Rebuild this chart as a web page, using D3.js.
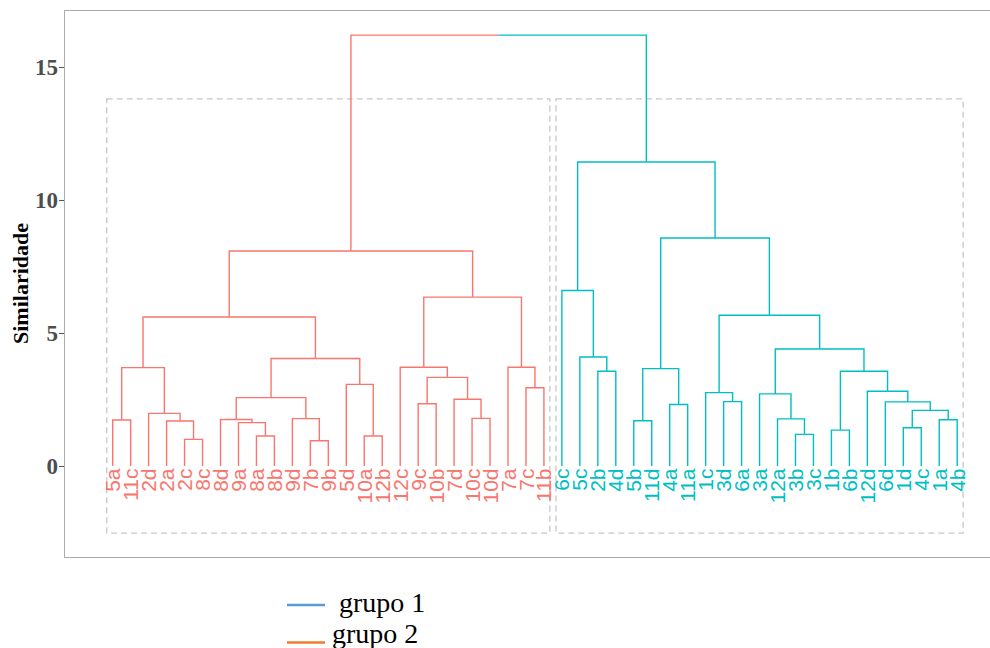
<!DOCTYPE html>
<html>
<head>
<meta charset="utf-8">
<script src="https://cdn.jsdelivr.net/npm/d3@7"></script>
<style>
  html, body { margin: 0; padding: 0; background: #fff; }
  svg { display: block; }
</style>
</head>
<body>
<svg id="chart" width="990" height="648"></svg>
<script>
// ---- DATA ----
const leafLabels = ["5a","11c","2d","2a","2c","8c","8d","9a","8a","8b","9d","7b","9b","5d","10a","12b",
  "12c","9c","10b","7d","10c","10d","7a","7c","11b",
  "6c","5c","2b","4d","5b","11d","4a","11a","1c","3d","6a","3a","12a","3b","3c","1b","6b","12d","6d","1d","4c","1a","4b"];
const leafGroups = [1,1,1,1,1,1,1,1,1,1,1,1,1,1,1,1,1,1,1,1,1,1,1,1,1,
  2,2,2,2,2,2,2,2,2,2,2,2,2,2,2,2,2,2,2,2,2,2,2];
// merges: [childA, childB, height]; strings = leaves, numbers = earlier merge rows
const merges = [
  ["2c","8c",1.00], ["2a",0,1.69], ["2d",1,1.98], ["5a","11c",1.73], [3,2,3.70],
  ["8a","8b",1.13], ["9a",5,1.63], ["8d",6,1.75], ["7b","9b",0.95], ["9d",8,1.78],
  [7,9,2.57], ["10a","12b",1.13], ["5d",11,3.07], [10,12,4.04], [4,13,5.60],
  ["9c","10b",2.34], ["10c","10d",1.79], ["7d",16,2.51], [15,17,3.33], ["12c",18,3.71],
  ["7c","11b",2.94], ["7a",20,3.71], [19,21,6.35], [14,22,8.08],
  ["2b","4d",3.56], ["5c",24,4.10], ["6c",25,6.60], ["5b","11d",1.70], ["4a","11a",2.31],
  [27,28,3.66], ["3d","6a",2.42], ["1c",30,2.76], ["3b","3c",1.19], ["12a",32,1.77],
  ["3a",33,2.71], ["1b","6b",1.35], ["1d","4c",1.44], ["1a","4b",1.74], [36,37,2.09],
  ["6d",38,2.41], ["12d",39,2.81], [35,40,3.56], [34,41,4.40], [31,42,5.67],
  [29,43,8.57], [26,44,11.43], [23,45,16.20]
];
const yTicks = [0,5,10,15];
const rectTop = 13.8, rectBottom = -2.52;
const groupColors = {1: "#F8766D", 2: "#00BFC4"};
const legendItems = ["grupo 1","grupo 2"];
const legendColors = ["#5B9BD5","#ED7D31"];

// ---- LAYOUT ----
const svg = d3.select("#chart");
const panel = {x0: 64, x1: 993, y0: 10, y1: 557};
const x = d3.scaleLinear().domain([0, leafLabels.length - 1]).range([112.7, 957.2]);
const y = d3.scaleLinear().domain([0, 15]).range([466, 67]);

// build node info
const leafIndex = {};
leafLabels.forEach((l, i) => leafIndex[l] = i);
const nodes = [];
function info(c) {
  if (typeof c === "string") {
    const i = leafIndex[c];
    return {x: i, h: 0, g: leafGroups[i]};
  }
  return nodes[c];
}
merges.forEach(([a, b, h]) => {
  const A = info(a), B = info(b);
  nodes.push({x: (A.x + B.x) / 2, h: h, g: A.g === B.g ? A.g : 0, A, B});
});

// panel border
svg.append("rect")
  .attr("x", panel.x0 + 0.5).attr("y", panel.y0 + 0.5)
  .attr("width", panel.x1 - panel.x0).attr("height", panel.y1 - panel.y0)
  .attr("fill", "none").attr("stroke", "#ABABAB").attr("stroke-width", 1);

// group rectangles
[1, 2].forEach(g => {
  const idx = leafGroups.map((v, i) => v === g ? i : -1).filter(i => i >= 0);
  const lo = d3.min(idx), hi = d3.max(idx);
  svg.append("rect")
    .attr("x", x(lo - 0.33)).attr("y", y(rectTop))
    .attr("width", x(hi + 0.33) - x(lo - 0.33))
    .attr("height", y(rectBottom) - y(rectTop))
    .attr("fill", "none").attr("stroke", "#C8C8C8")
    .attr("stroke-width", 1.3).attr("stroke-dasharray", "6,4");
});

// branches
const gBr = svg.append("g").attr("fill", "none").attr("stroke-width", 1.4);
nodes.forEach(n => {
  [n.A, n.B].forEach(c => {
    gBr.append("path")
      .attr("d", `M${x(n.x)},${y(n.h)}H${x(c.x)}V${y(c.h)}`)
      .attr("stroke", groupColors[c.g]);
  });
});

// leaf labels
svg.append("g").selectAll("text").data(leafLabels).join("text")
  .attr("transform", (d, i) => `translate(${x(i)},${468.5}) rotate(-90)`)
  .attr("dy", "0.36em")
  .attr("text-anchor", "end")
  .attr("font-family", "'Liberation Sans', Arial, Helvetica, sans-serif")
  .attr("font-size", 21)
  .attr("fill", (d, i) => groupColors[leafGroups[i]])
  .text(d => d);

// y axis
const yAxis = d3.axisLeft(y).tickValues(yTicks).tickSize(5).tickPadding(1).tickFormat(d3.format("d"));
const ga = svg.append("g").attr("transform", `translate(${panel.x0},0)`).call(yAxis);
ga.select(".domain").remove();
ga.selectAll(".tick line").attr("stroke", "#555").attr("stroke-width", 1);
ga.selectAll(".tick text")
  .attr("font-family", "'Liberation Serif', 'Times New Roman', serif")
  .attr("font-weight", "bold").attr("font-size", 23).attr("fill", "#4D4D4D");

// y title
svg.append("text")
  .attr("transform", `translate(28,${(panel.y0 + panel.y1) / 2}) rotate(-90)`)
  .attr("text-anchor", "middle")
  .attr("font-family", "'Liberation Serif', 'Times New Roman', serif")
  .attr("font-weight", "bold").attr("font-size", 22).attr("fill", "#000")
  .text("Similaridade");

// legend
const legY = [605, 642.5];
const legTextX = [339, 332];
const legTextY = [612, 643];
legendItems.forEach((t, i) => {
  svg.append("line")
    .attr("x1", 287).attr("x2", 325).attr("y1", legY[i]).attr("y2", legY[i])
    .attr("stroke", legendColors[i]).attr("stroke-width", 2.5);
  svg.append("text")
    .attr("x", legTextX[i]).attr("y", legTextY[i])
    .attr("font-family", "'Liberation Serif', 'Times New Roman', serif")
    .attr("font-size", 28).attr("fill", "#000")
    .text(t);
});
</script>
</body>
</html>
